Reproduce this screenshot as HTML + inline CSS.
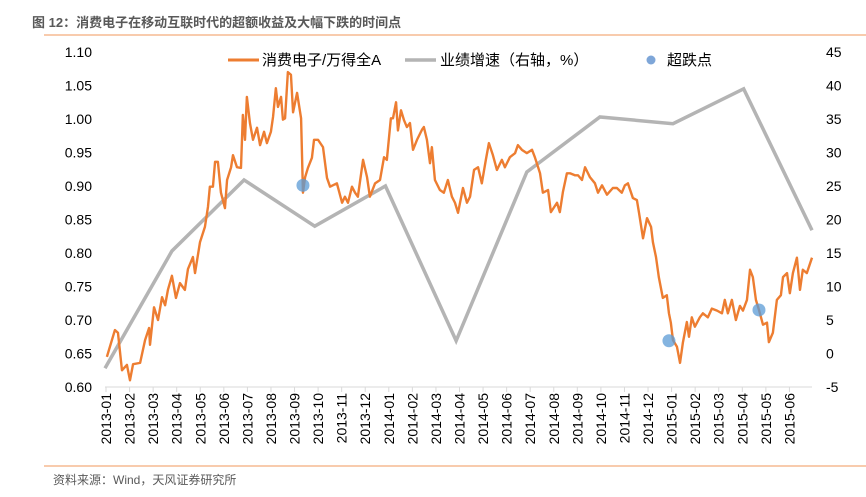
<!DOCTYPE html>
<html><head><meta charset="utf-8">
<style>
body{margin:0;background:#fff;width:866px;height:492px;overflow:hidden;font-family:"Liberation Sans","Noto Sans CJK SC",sans-serif;}
</style></head>
<body>
<svg id="chart" width="866" height="492" xmlns="http://www.w3.org/2000/svg" font-family="Liberation Sans, Noto Sans CJK SC, sans-serif">
<text x="32" y="27" font-size="13" font-weight="bold" fill="#595959">图 12：消费电子在移动互联时代的超额收益及大幅下跌的时间点</text>
<line x1="44" y1="35" x2="866" y2="35" stroke="#f8cbad" stroke-width="2"/>
<line x1="44" y1="466" x2="866" y2="466" stroke="#f8cbad" stroke-width="2"/>
<text x="53" y="484" font-size="12" fill="#595959">资料来源：Wind，天风证券研究所</text>
<g id="legend">
<line x1="228" y1="60" x2="259" y2="60" stroke="#ed7d31" stroke-width="3"/>
<text x="262" y="65" font-size="15" fill="#000">消费电子/万得全A</text>
<line x1="405" y1="60" x2="436" y2="60" stroke="#b4b4b4" stroke-width="3.5"/>
<text x="440" y="65" font-size="15" fill="#000">业绩增速（右轴，%）</text>
<circle cx="651" cy="60" r="4.5" fill="#7ea6d8"/>
<text x="667" y="65" font-size="15" fill="#000">超跌点</text>
</g>
<g id="axes"></g>
<g id="marks"></g>
</svg>
<script>
const monthLabels=["2013-01","2013-02","2013-03","2013-04","2013-05","2013-06","2013-07","2013-08","2013-09","2013-10","2013-11","2013-12","2014-01","2014-02","2014-03","2014-04","2014-05","2014-06","2014-07","2014-08","2014-09","2014-10","2014-11","2014-12","2015-01","2015-02","2015-03","2015-04","2015-05","2015-06"];
const leftTicks=[0.60,0.65,0.70,0.75,0.80,0.85,0.90,0.95,1.00,1.05,1.10];
const rightTicks=[-5,0,5,10,15,20,25,30,35,40,45];
const ratioT=[0.08,0.42,0.55,0.72,0.93,1.06,1.19,1.49,1.70,1.87,1.91,2.08,2.25,2.42,2.55,2.67,2.84,3.01,3.18,3.39,3.52,3.73,3.82,4.03,4.24,4.37,4.45,4.58,4.67,4.79,4.92,5.09,5.18,5.35,5.43,5.60,5.77,5.85,5.94,6.02,6.15,6.28,6.45,6.58,6.75,6.87,7.04,7.13,7.25,7.34,7.47,7.55,7.64,7.76,7.89,7.98,8.15,8.32,8.40,8.49,8.61,8.78,8.87,9.04,9.25,9.42,9.55,9.84,10.06,10.18,10.31,10.48,10.61,10.73,10.95,11.12,11.24,11.46,11.67,11.84,11.96,12.13,12.22,12.35,12.43,12.56,12.69,12.81,12.94,13.07,13.24,13.45,13.53,13.66,13.79,13.87,14.00,14.21,14.38,14.55,14.72,14.85,14.98,15.19,15.36,15.49,15.66,15.83,15.99,16.16,16.29,16.46,16.63,16.84,16.97,17.18,17.40,17.52,17.69,17.90,18.12,18.24,18.46,18.58,18.80,18.92,19.18,19.30,19.43,19.60,19.73,19.94,20.07,20.24,20.37,20.58,20.79,20.92,21.09,21.30,21.55,21.72,21.93,22.06,22.19,22.40,22.57,22.66,22.83,23.00,23.17,23.25,23.38,23.50,23.67,23.84,23.93,24.01,24.10,24.27,24.40,24.52,24.69,24.78,24.90,25.03,25.24,25.37,25.58,25.75,25.97,26.18,26.30,26.43,26.60,26.77,26.94,27.07,27.24,27.37,27.49,27.62,27.75,27.92,28.09,28.17,28.34,28.51,28.68,28.77,28.94,29.06,29.19,29.36,29.49,29.61,29.78,30.00];
const ratioV=[0.645,0.685,0.681,0.625,0.633,0.610,0.634,0.636,0.670,0.688,0.663,0.719,0.700,0.734,0.722,0.745,0.766,0.733,0.755,0.745,0.776,0.794,0.770,0.816,0.839,0.869,0.899,0.899,0.936,0.936,0.890,0.867,0.909,0.928,0.946,0.928,0.927,1.006,0.969,1.033,0.994,0.969,0.987,0.961,0.981,0.964,0.981,1.003,1.046,1.018,1.033,0.999,1.001,1.070,1.066,1.010,1.039,1.001,0.890,0.913,0.927,0.942,0.969,0.969,0.958,0.912,0.899,0.904,0.875,0.884,0.875,0.899,0.890,0.884,0.939,0.913,0.884,0.904,0.909,0.943,0.939,1.001,1.001,1.025,0.983,1.013,0.998,0.988,0.994,0.954,0.969,0.984,0.988,0.969,0.934,0.958,0.909,0.894,0.890,0.909,0.884,0.875,0.860,0.897,0.875,0.884,0.924,0.928,0.904,0.939,0.964,0.946,0.924,0.939,0.928,0.943,0.949,0.961,0.954,0.949,0.954,0.943,0.919,0.890,0.894,0.861,0.875,0.861,0.891,0.919,0.919,0.916,0.916,0.909,0.928,0.913,0.904,0.890,0.901,0.887,0.897,0.897,0.890,0.901,0.904,0.882,0.879,0.860,0.822,0.852,0.839,0.816,0.794,0.764,0.733,0.737,0.710,0.696,0.670,0.660,0.636,0.666,0.697,0.675,0.704,0.690,0.704,0.710,0.704,0.717,0.714,0.710,0.730,0.710,0.730,0.700,0.721,0.714,0.730,0.775,0.764,0.730,0.715,0.693,0.696,0.667,0.681,0.730,0.737,0.764,0.770,0.740,0.770,0.793,0.745,0.775,0.770,0.793];
const growthT=[0,2.84,5.9,8.9,11.9,14.9,17.9,21,24.1,27.1,30];
const growthV=[-2.2,15.3,25.9,19.0,25.0,1.9,27.1,35.3,34.3,39.5,18.4];
const dropT=[8.40,23.93,27.75];
const dropV=[0.901,0.669,0.715];

const NS="http://www.w3.org/2000/svg";
const X0=105,X1=812,YT=52,YB=387;
const xs=m=>X0+(X1-X0)*m/30;
const yl=v=>YB-(v-0.60)/(0.50)*(YB-YT);
const yr=v=>YB-(v+5)/50*(YB-YT);
function mk(tag,attrs,parent){const e=document.createElementNS(NS,tag);for(const k in attrs)e.setAttribute(k,attrs[k]);parent.appendChild(e);return e;}
const axes=document.getElementById('axes'),marks=document.getElementById('marks');

const xa=mk('line',{x1:X0,y1:YB,x2:X1,y2:YB,stroke:'#d9d9d9','stroke-width':1},axes);


monthLabels.forEach((lab,i)=>{
  const x=xs(i)+1;
  const t=mk('line',{x1:x,y1:YB,x2:x,y2:YB+5,stroke:'#d9d9d9'},axes);
  
  
  const tx=mk('text',{x:0,y:0,'font-size':14,fill:'#000','text-anchor':'end',transform:`translate(${x+5},${YB+6}) rotate(-90)`},axes);
  tx.textContent=lab;
  
  
});
leftTicks.forEach(v=>{
  const t=mk('text',{x:92,y:yl(v)+5,'font-size':14,fill:'#000','text-anchor':'end'},axes);
  t.textContent=v.toFixed(2);
  
  
});
rightTicks.forEach(v=>{
  const t=mk('text',{x:826,y:yr(v)+5,'font-size':14,fill:'#000'},axes);
  t.textContent=String(v);
  
  
});
const g=mk('polyline',{points:growthT.map((m,i)=>xs(m)+','+yr(growthV[i])).join(' '),fill:'none',stroke:'#b4b4b4','stroke-width':3.5,'stroke-linejoin':'miter'},marks);


const r=mk('polyline',{points:ratioT.map((m,i)=>xs(m)+','+yl(ratioV[i])).join(' '),fill:'none',stroke:'#ed7d31','stroke-width':2.4,'stroke-linejoin':'round'},marks);


dropT.forEach((m,i)=>{
  const c=mk('circle',{cx:xs(m),cy:yl(dropV[i]),r:6.5,fill:'#5b9bd5','fill-opacity':0.75},marks);
  
  
});
</script>
</body></html>
